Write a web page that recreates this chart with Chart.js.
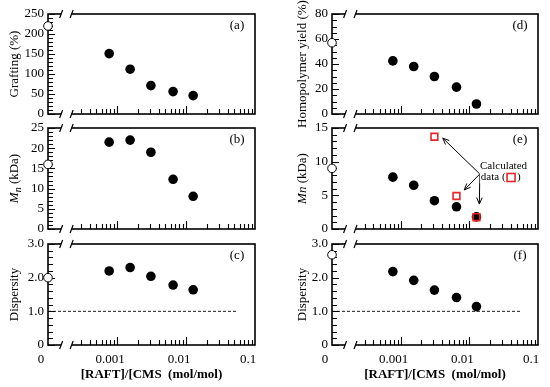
<!DOCTYPE html>
<html><head><meta charset="utf-8">
<script src="https://cdn.jsdelivr.net/npm/chart.js@4/dist/chart.umd.min.js"></script>
<style>
html,body{margin:0;padding:0;background:#fff;}
body{width:550px;height:387px;position:relative;overflow:hidden;}
.p{position:absolute;}
</style></head><body>
<div class="p" id="pa"><canvas></canvas></div>
<div class="p" id="pb"><canvas></canvas></div>
<div class="p" id="pc"><canvas></canvas></div>
<div class="p" id="pd"><canvas></canvas></div>
<div class="p" id="pe"><canvas></canvas></div>
<div class="p" id="pf"><canvas></canvas></div>
<script>
// ---------------- data ----------------
const ratioX = [0.00077, 0.00155, 0.0031, 0.0065, 0.0127];   // [RAFT]/[CMS] (mol/mol)
const ZERO_X = 1e-4;                                          // where ratio "0" sits on the broken axis
const graftingZero = 220;
const grafting = [151, 112, 71, 56, 46];
const mnZero = 16;
const mn = [21.5, 22, 19, 12.3, 8.1];
const dispZero = 2.0;
const disp = [2.2, 2.3, 2.04, 1.78, 1.64];
const homoZero = 57;
const homoYield = [42.5, 38, 30, 21.5, 8];
const mnHomoZero = 9;
const mnHomo = [7.7, 6.5, 4.2, 3.3, 1.8];
const mnCalcX = [0.0031, 0.0065, 0.0127];
const mnCalc = [13.7, 4.9, 1.75];
const dispHomoZero = 2.68;
const dispHomo = [2.18, 1.92, 1.63, 1.41, 1.14];
const refLineX = [1e-4, 0.055];
const refLineY = 1.0;

const xLabelValues = [1e-4, 1e-3, 1e-2, 1e-1];
const xLabelText = ['0', '0.001', '0.01', '0.1'];
const xMinorTicks = [3e-4,4e-4,5e-4,6e-4,7e-4,8e-4,9e-4,
                     2e-3,3e-3,4e-3,5e-3,6e-3,7e-3,8e-3,9e-3,
                     2e-2,3e-2,4e-2,5e-2,6e-2,7e-2,8e-2,9e-2];
const xMajorTicks = [1e-3, 1e-2];
const breakX = [1.55e-4, 2.2e-4];
const xTitle = '[RAFT]/[CMS  (mol/mol)';

const callout = {
  origin: {x: 0.0142, y: 8.17},
  tips: [{x: 0.0041, y: 13.5}, {x: 0.00843, y: 5.8}, {x: 0.0140, y: 3.7}],
  text: [{t: 'Calculated', x: 0.0143, y: 9.35}, {t: 'data (', x: 0.0147, y: 7.65}]
};

// ---------------- layout ----------------
const SERIF = '"Liberation Serif", "Times New Roman", serif';
const cols = [{left: 0, width: 262, yW: 48, titleX: 15}, {left: 275, width: 270, yW: 57, titleX: 28}];
const rows = [{top: 0, height: 132, padTop: 14, xH: 18}, {top: 118, height: 119, padTop: 10, xH: 8}, {top: 234, height: 153, padTop: 10, xH: 42}];

const fmtInt = v => String(v);
const fmtDisp = v => (Math.abs(v) < 1e-9 ? '0' : v.toFixed(1));

const panels = [
  {id: 'pa', col: 0, row: 0, yMin: 0, yMax: 250, yStep: 10, yMajor: 50, fmt: fmtInt, title: [{t: 'Grafting (%)'}], tag: '(a)', zero: graftingZero, vals: grafting},
  {id: 'pb', col: 0, row: 1, yMin: 0, yMax: 25, yStep: 1, yMajor: 5, fmt: fmtInt, title: [{t: 'M', i: true}, {t: 'n', i: true, sub: true}, {t: ' (kDa)'}], tag: '(b)', zero: mnZero, vals: mn},
  {id: 'pc', col: 0, row: 2, yMin: 0, yMax: 3, yStep: 0.2, yMajor: 1, fmt: fmtDisp, title: [{t: 'Dispersity'}], tag: '(c)', zero: dispZero, vals: disp, ref: true},
  {id: 'pd', col: 1, row: 0, yMin: 0, yMax: 80, yStep: 5, yMajor: 20, fmt: fmtInt, title: [{t: 'Homopolymer yield (%)'}], tag: '(d)', zero: homoZero, vals: homoYield},
  {id: 'pe', col: 1, row: 1, yMin: 0, yMax: 15, yStep: 1, yMajor: 5, fmt: fmtInt, title: [{t: 'Mn', i: true}, {t: ' (kDa)'}], tag: '(e)', zero: mnHomoZero, vals: mnHomo, calc: true},
  {id: 'pf', col: 1, row: 2, yMin: 0, yMax: 3, yStep: 0.2, yMajor: 1, fmt: fmtDisp, title: [{t: 'Dispersity'}], tag: '(f)', zero: dispHomoZero, vals: dispHomo, ref: true}
];

const isMajor = (v, m) => Math.abs(v / m - Math.round(v / m)) < 1e-6;

function drawRich(ctx, segs, cx, cy) {
  ctx.save();
  ctx.translate(cx, cy);
  ctx.rotate(-Math.PI / 2);
  const f = s => (s.i ? 'italic ' : '') + (s.sub ? 10 : 13) + 'px ' + SERIF;
  let w = 0;
  for (const s of segs) { ctx.font = f(s); w += ctx.measureText(s.t).width; }
  let x = -w / 2;
  ctx.textBaseline = 'middle';
  ctx.fillStyle = '#000';
  for (const s of segs) { ctx.font = f(s); ctx.fillText(s.t, x, s.sub ? 3.5 : 0); x += ctx.measureText(s.t).width; }
  ctx.restore();
}

function arrow(ctx, x0, y0, x1, y1) {
  ctx.beginPath(); ctx.moveTo(x0, y0); ctx.lineTo(x1, y1); ctx.stroke();
  const a = Math.atan2(y1 - y0, x1 - x0), L = 7, s = 0.4;
  ctx.beginPath();
  ctx.moveTo(x1 - L * Math.cos(a - s), y1 - L * Math.sin(a - s));
  ctx.lineTo(x1, y1);
  ctx.lineTo(x1 - L * Math.cos(a + s), y1 - L * Math.sin(a + s));
  ctx.stroke();
}

const decor = {
  id: 'decor',
  beforeDatasetsDraw(chart) {
    const p = chart.options.plugins.decor.panel;
    const {ctx, chartArea: a, scales: {x, y}} = chart;
    ctx.save();
    ctx.strokeStyle = '#000';
    ctx.lineWidth = 1.6;
    ctx.strokeRect(a.left, a.top, a.right - a.left, a.bottom - a.top);
    ctx.lineWidth = 1.1;
    ctx.beginPath();
    for (const v of xMinorTicks) { const px = Math.round(x.getPixelForValue(v)) + 0.5; ctx.moveTo(px, a.bottom); ctx.lineTo(px, a.bottom - 5); }
    for (const v of xMajorTicks) { const px = Math.round(x.getPixelForValue(v)) + 0.5; ctx.moveTo(px, a.bottom); ctx.lineTo(px, a.bottom - 8); }
    for (const t of y.ticks) {
      const py = Math.round(y.getPixelForValue(t.value)) + 0.5;
      ctx.moveTo(a.left, py); ctx.lineTo(a.left + (isMajor(t.value, p.yMajor) ? 7 : 5), py);
    }
    ctx.stroke();
    // axis break
    const b0 = x.getPixelForValue(breakX[0]), b1 = x.getPixelForValue(breakX[1]);
    ctx.fillStyle = '#fff';
    ctx.fillRect(b0, a.top - 3, b1 - b0, 6);
    ctx.fillRect(b0, a.bottom - 3, b1 - b0, 6);
    ctx.lineWidth = 1.2;
    ctx.beginPath();
    for (const yy of [a.top, a.bottom]) for (const bx of [b0, b1]) {
      ctx.moveTo(bx - 1.5, yy + 4); ctx.lineTo(bx + 1.5, yy - 4);
    }
    ctx.stroke();
    ctx.restore();
  },
  afterDatasetsDraw(chart) {
    const p = chart.options.plugins.decor.panel;
    const {ctx, chartArea: a, scales: {x, y}} = chart;
    ctx.save();
    ctx.fillStyle = '#000';
    ctx.font = '13px ' + SERIF;
    ctx.textAlign = 'center';
    ctx.textBaseline = 'middle';
    ctx.fillText(p.tag, a.right - 18, a.top + 12);
    if (p.calc) {
      ctx.strokeStyle = '#000';
      ctx.lineWidth = 1;
      const ox = x.getPixelForValue(callout.origin.x), oy = y.getPixelForValue(callout.origin.y);
      for (const t of callout.tips) arrow(ctx, ox, oy, x.getPixelForValue(t.x), y.getPixelForValue(t.y));
      ctx.font = '11px ' + SERIF;
      ctx.textAlign = 'left';
      for (const t of callout.text) {
        const tx = x.getPixelForValue(t.x), ty = y.getPixelForValue(t.y);
        ctx.fillStyle = '#fff';
        const w = ctx.measureText(t.t).width;
        ctx.fillRect(tx - 1, ty - 6, w + 2, 12);
        ctx.fillStyle = '#000';
        ctx.fillText(t.t, tx, ty);
        if (t.t === 'data (') {
          const sx = tx + w + 1;
          ctx.strokeStyle = '#e8262b'; ctx.lineWidth = 1.6;
          ctx.strokeRect(sx + 0.5, ty - 4, 8, 8);
          ctx.fillText(')', sx + 10.5, ty);
        }
      }
    }
    ctx.restore();
  },
  afterDraw(chart) {
    const p = chart.options.plugins.decor.panel;
    const a = chart.chartArea;
    drawRich(chart.ctx, p.title, cols[p.col].titleX, (a.top + a.bottom) / 2);
  }
};

function buildDatasets(p) {
  const ds = [];
  if (p.calc) ds.push({data: mnCalcX.map((v, i) => ({x: v, y: mnCalc[i]})), pointStyle: 'rect', pointRadius: 4.8, borderColor: '#e8262b', borderWidth: 1.6, backgroundColor: 'rgba(0,0,0,0)', order: 0, clip: false});
  ds.push({data: ratioX.map((v, i) => ({x: v, y: p.vals[i]})), pointRadius: 4.8, backgroundColor: '#000', borderColor: '#000', borderWidth: 0, order: 1, clip: false});
  ds.push({data: [{x: ZERO_X, y: p.zero}], pointRadius: 4.3, backgroundColor: '#fff', borderColor: '#000', borderWidth: 1, order: 2, clip: false});
  if (p.ref) ds.push({data: refLineX.map(v => ({x: v, y: refLineY})), showLine: true, borderColor: '#000', borderWidth: 0.9, borderDash: [3, 2], pointRadius: 0, order: 3});
  return ds;
}

for (const p of panels) {
  const c = cols[p.col], r = rows[p.row];
  const el = document.getElementById(p.id);
  Object.assign(el.style, {left: c.left + 'px', top: r.top + 'px', width: c.width + 'px', height: r.height + 'px'});
  const bottom = p.row === 2;
  new Chart(el.querySelector('canvas'), {
    type: 'scatter',
    data: {datasets: buildDatasets(p)},
    options: {
      responsive: true, maintainAspectRatio: false, animation: false,
      events: [],
      layout: {padding: {top: r.padTop, right: 7, left: 0, bottom: 0}},
      plugins: {legend: {display: false}, tooltip: {enabled: false}, decor: {panel: p}},
      scales: {
        x: {
          type: 'logarithmic', min: 1e-4, max: 0.1,
          grid: {display: false, drawTicks: false}, border: {display: false},
          afterBuildTicks: s => { s.ticks = xLabelValues.map(v => ({value: v})); },
          afterFit: s => { s.height = r.xH; s.paddingLeft = 0; s.paddingRight = 0; },
          ticks: {display: bottom, autoSkip: false, maxRotation: 0, padding: 7, labelOffset: -7,
            color: '#000', font: {family: SERIF, size: 13},
            callback: (v, i) => xLabelText[i]},
          title: {display: bottom, text: xTitle, color: '#000', font: {family: SERIF, size: 13, weight: 'bold'}, padding: {top: 0, bottom: 5}}
        },
        y: {
          type: 'linear', min: p.yMin, max: p.yMax,
          grid: {display: false, drawTicks: false}, border: {display: false},
          afterFit: s => { s.width = c.yW; s.paddingTop = 0; s.paddingBottom = 0; },
          ticks: {stepSize: p.yStep, maxTicksLimit: 200, autoSkip: false, padding: 4,
            color: '#000', font: {family: SERIF, size: 13},
            callback: v => (isMajor(v, p.yMajor) ? p.fmt(v) : '')}
        }
      }
    },
    plugins: [decor]
  });
}
</script>
</body></html>
